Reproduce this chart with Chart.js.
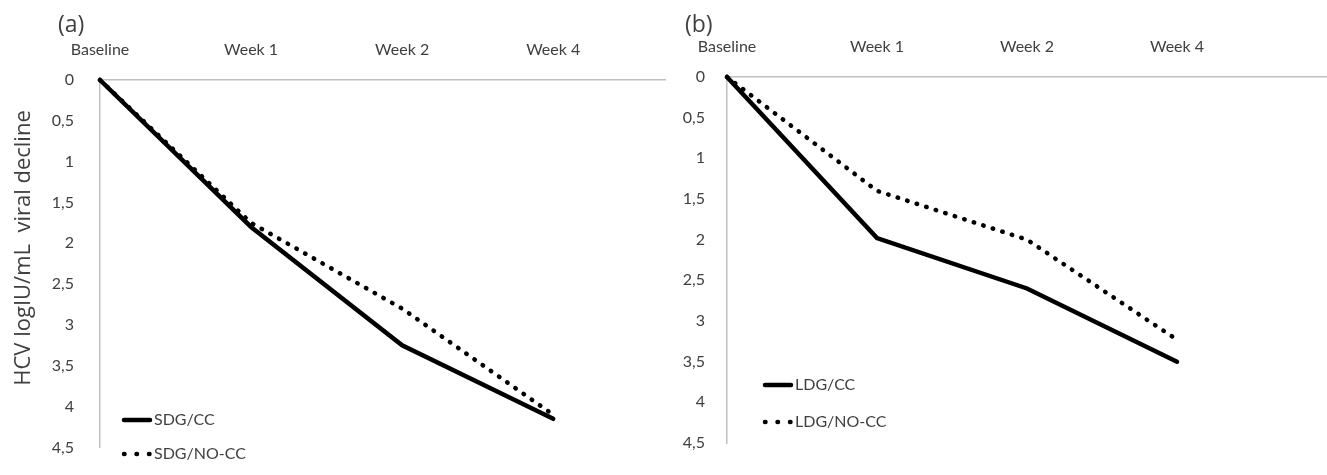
<!DOCTYPE html>
<html>
<head>
<meta charset="utf-8">
<script src="https://cdn.jsdelivr.net/npm/chart.js@4.4.0/dist/chart.umd.min.js"></script>
<style>
  body { margin: 0; background: #fff; }
  #wrap { position: relative; width: 1327px; height: 475px; }
  canvas { position: absolute; top: 0; }
</style>
</head>
<body>
<div id="wrap">
  <canvas id="chartA" width="672" height="475" style="left:0"></canvas>
  <canvas id="chartB" width="655" height="475" style="left:672px"></canvas>
</div>
<script>
// data
const categories = ['Baseline', 'Week 1', 'Week 2', 'Week 4'];
const yTicks = [0, 0.5, 1, 1.5, 2, 2.5, 3, 3.5, 4, 4.5];
const sdgCC = [0, 1.8, 3.25, 4.15];
const sdgNoCC = [0, 1.75, 2.8, 4.1];
const ldgCC = [0, 1.98, 2.6, 3.5];
const ldgNoCC = [0, 1.4, 2.0, 3.23];

const textColor = '#404040';
const axisColor = '#bfbfbf';
const tickFont = { family: 'Lato', size: 16 };

// panel letter, y title and the in-plot legend
const panelText = {
  id: 'panelText',
  afterDraw(chart, args, opts) {
    const ctx = chart.ctx;
    ctx.save();
    ctx.fillStyle = textColor;
    ctx.textBaseline = 'middle';
    ctx.font = '23px "Open Sans"';
    ctx.fillText(opts.letter, opts.letterX, 25);
    if (opts.yTitle) {
      ctx.translate(opts.yTitleX, opts.yTitleY);
      ctx.rotate(-Math.PI / 2);
      ctx.textAlign = 'center';
      ctx.font = '22px "Open Sans"';
      ctx.fillText(opts.yTitle, 0, 0);
      ctx.setTransform(1, 0, 0, 1, 0, 0);
      ctx.textAlign = 'left';
    }
    chart.data.datasets.forEach((ds, i) => {
      const y = opts.legendY + i * opts.legendGap;
      const x = opts.legendX;
      ctx.beginPath();
      ctx.strokeStyle = ds.borderColor;
      ctx.lineWidth = ds.borderWidth;
      ctx.lineCap = 'round';
      ctx.setLineDash(ds.borderDash ? [0.5, 12] : []);
      ctx.moveTo(x, y);
      ctx.lineTo(x + 26, y);
      ctx.stroke();
      ctx.setLineDash([]);
      ctx.font = '16px Lato';
      ctx.fillText(ds.label, x + 30, y);
    });
    ctx.restore();
  }
};

function makePanel(id, names, solid, dotted, p) {
  const toPoints = (vals) => vals.map((v, i) => ({ x: i, y: v }));
  return new Chart(document.getElementById(id), {
    type: 'line',
    data: {
      datasets: [
        {
          label: names[0],
          data: toPoints(solid),
          borderColor: '#000',
          borderWidth: 4.5,
          borderCapStyle: 'round',
          pointRadius: 0,
          tension: 0,
          clip: false,
        },
        {
          label: names[1],
          data: toPoints(dotted),
          borderColor: '#000',
          borderWidth: 4.5,
          borderDash: [0.5, 9.5],
          borderCapStyle: 'round',
          pointRadius: 0,
          tension: 0,
          clip: false,
        },
      ],
    },
    options: {
      responsive: false,
      animation: false,
      layout: { padding: { top: 0, left: 0, right: p.padRight, bottom: p.padBottom } },
      plugins: {
        legend: { display: false },
        tooltip: { enabled: false },
        panelText: p.text,
      },
      scales: {
        x: {
          type: 'linear',
          position: 'top',
          min: 0,
          max: p.xMax,
          afterBuildTicks: (scale) => {
            scale.ticks = categories.map((c, i) => ({ value: i }));
          },
          afterFit: (scale) => { scale.height = p.xHeight; },
          grid: { display: false },
          border: { display: true, color: axisColor, width: 1.5 },
          ticks: {
            padding: 13,
            color: textColor,
            font: tickFont,
            maxRotation: 0,
            callback: (v) => categories[v] ?? '',
          },
        },
        y: {
          type: 'linear',
          reverse: true,
          min: yTicks[0],
          max: yTicks[yTicks.length - 1],
          afterBuildTicks: (scale) => {
            scale.ticks = yTicks.map((v) => ({ value: v }));
          },
          afterFit: (scale) => { scale.width = p.yWidth; },
          grid: { display: false },
          border: { display: true, color: axisColor, width: 1.5 },
          ticks: {
            padding: p.yPad,
            color: textColor,
            font: tickFont,
            callback: (v) => String(v).replace('.', ','),
          },
        },
      },
    },
    plugins: [panelText],
  });
}

makePanel('chartA', ['SDG/CC', 'SDG/NO-CC'], sdgCC, sdgNoCC, {
  xMax: 3.74, xHeight: 80, yWidth: 100, yPad: 18, padRight: 7, padBottom: 9,
  text: {
    letter: '(a)', letterX: 58,
    yTitle: 'HCV logIU/mL  viral decline', yTitleX: 24, yTitleY: 248,
    legendX: 124, legendY: 420, legendGap: 34,
  },
});

makePanel('chartB', ['LDG/CC', 'LDG/NO-CC'], ldgCC, ldgNoCC, {
  xMax: 4, xHeight: 77, yWidth: 55, yPad: 14, padRight: 0, padBottom: 32,
  text: {
    letter: '(b)', letterX: 13,
    legendX: 93, legendY: 385, legendGap: 37,
  },
});
</script>
</body>
</html>
